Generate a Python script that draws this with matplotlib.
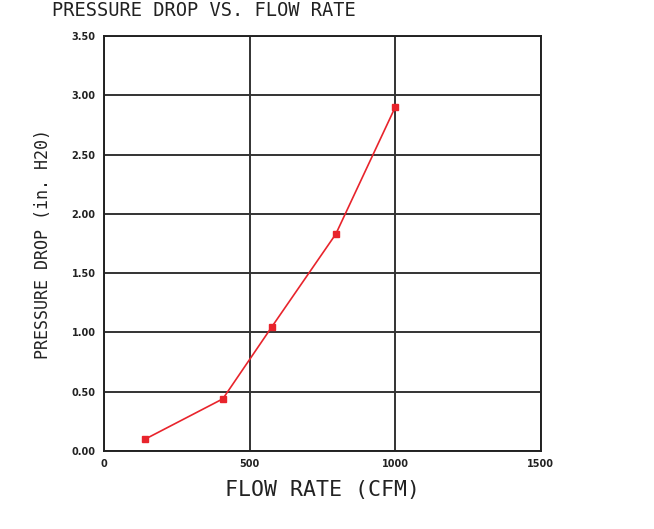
import numpy as np
import matplotlib.pyplot as plt

flow = [141, 408, 577, 796, 1000]
dp = [0.10, 0.44, 1.05, 1.83, 2.90]
xticks = [0, 500, 1000, 1500]
yticks = [0.0, 0.5, 1.0, 1.5, 2.0, 2.5, 3.0, 3.5]

fig = plt.figure(figsize=(6.54, 5.29), dpi=100)
ax = fig.add_axes([0.159, 0.1474, 0.668, 0.7845])

ax.plot(flow, dp, color="#e8242c", lw=1.2, marker="s", ms=4.5,
        mec="#e8242c", mfc="#e8242c", zorder=3)

ax.set_xlim(0, 1500)
ax.set_ylim(0, 3.5)
ax.set_xticks(xticks)
ax.set_yticks(yticks)
ax.set_xticklabels([str(v) for v in xticks], fontsize=7, fontweight="bold", color="#222222")
ax.set_yticklabels(["%.2f" % v for v in yticks], fontsize=7, fontweight="bold", color="#222222")
ax.tick_params(length=0, pad=6)
ax.grid(True, color="#333333", lw=1.4)
for s in ax.spines.values():
    s.set_color("#222222")
    s.set_linewidth(1.4)

mono = "DejaVu Sans Mono"
ax.set_xlabel("FLOW RATE (CFM)", fontsize=15.5, family=mono, color="#222222", labelpad=8)
ax.set_ylabel("PRESSURE DROP (in. H20)", fontsize=12, family=mono, color="#222222", labelpad=14)
fig.text(0.079, 0.998, "PRESSURE DROP VS. FLOW RATE", fontsize=13.5, family=mono,
         color="#222222", ha="left", va="top")

fig.savefig("out.png", dpi=100)
